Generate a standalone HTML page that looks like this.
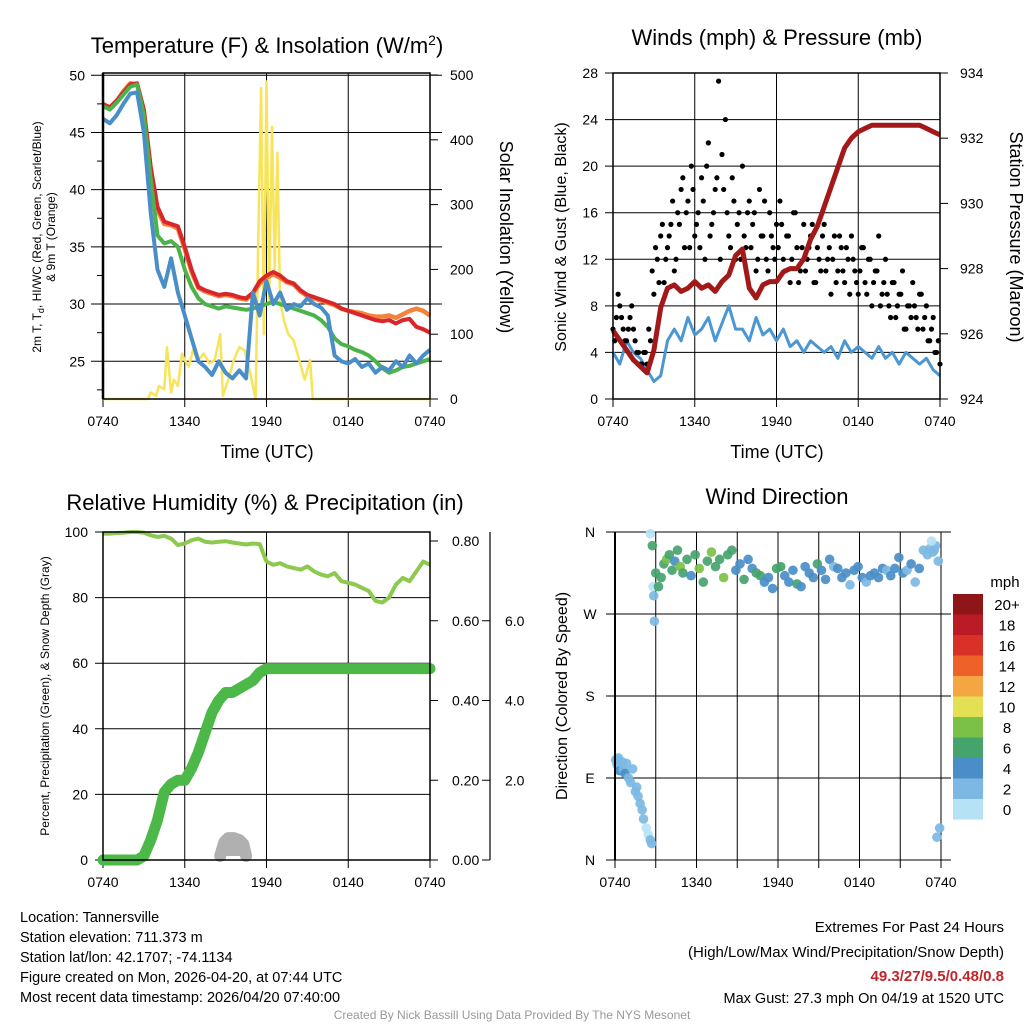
<!DOCTYPE html>
<html><head><meta charset="utf-8">
<style>
html,body{margin:0;padding:0;background:#fff;}
svg{display:block;font-family:"Liberation Sans",Arial,sans-serif;}
</style></head>
<body>
<svg id="root" width="1024" height="1024" viewBox="0 0 1024 1024" xmlns="http://www.w3.org/2000/svg"></svg>
<script>
// ---------- DATA ----------
const hrs = [0,0.5,1,1.5,2,2.5,3,3.5,4,4.5,5,5.5,6,6.5,7,7.5,8,8.5,9,9.5,10,10.5,11,11.5,12,12.5,13,13.5,14,14.5,15,15.5,16,16.5,17,17.5,18,18.5,19,19.5,20,20.5,21,21.5,22,22.5,23,23.5,24];
const xTickLabels = ["0740","1340","1940","0140","0740"];
const tempRed = [47.5,47.2,47.8,48.5,49.2,49.3,47,42,38.5,37.2,37,36.8,35,33,31.5,31.2,31,30.8,30.9,30.8,30.6,30.5,31,32,32.5,32.8,32.5,32,31.8,31.2,30.8,30.6,30.4,30.2,30,29.6,29.4,29.2,29,28.8,28.6,28.5,28.6,28.3,28.6,28.7,28,27.8,27.5];
const temp9m = [47.4,47.1,47.7,48.6,49.3,49.2,46.8,41.8,38.2,37,36.9,36.6,34.8,32.8,31.4,31.1,30.9,30.7,30.8,30.7,30.5,30.4,30.9,31.8,32.3,32.6,32.3,31.9,31.7,31.1,30.7,30.5,30.3,30.1,29.9,29.6,29.4,29.3,29.2,29,28.9,28.9,29,28.8,29.1,29.4,29.6,29.4,29];
const dewGreen = [47.3,47,47.6,48.3,49,49.2,46.5,41,36,35.3,35.5,35,33,31.5,30.5,30,29.8,29.6,29.8,29.7,29.6,29.5,29.6,29.8,30,30.2,30,29.8,29.6,29.4,29.2,29,28.6,28,27,26.5,26.3,26,25.8,25.5,25,24.4,24,24.2,24.5,24.6,24.8,25,25.2];
const wcBlue = [46.2,45.8,46.5,47.5,48.4,48.5,45,38,33,31.5,34,31,29,27,25,24.5,23.8,25,24,23.5,24.2,23.5,31,29,32,30,31,29.5,30,29.8,30.5,30,29.7,29,25.5,25,24.8,25.2,24.5,24.8,24,24.5,24.2,25,24.5,25.5,24.8,25.5,26];
const insolT = [0,3.3,3.5,3.9,4.1,4.5,4.7,5,5.2,5.5,5.8,6,6.3,6.6,7,7.4,7.8,8.2,8.6,8.8,9.2,9.6,10,10.4,10.8,11.2,11.4,11.6,11.8,12,12.2,12.4,12.6,12.8,13,13.3,13.6,14,14.4,14.8,15.2,15.4,16,24];
const insolV = [0,0,10,5,20,15,80,10,30,20,70,60,50,75,60,70,55,60,100,5,30,60,80,75,40,0,250,480,100,490,150,420,200,380,150,120,100,90,60,30,60,0,0,0];
const windSonic = [4,3,5,4,3.5,2.5,1.5,2,5,6,5,7,5.5,6,7,5,6.5,8,6,6,5,7,5.5,6,5,6,4.5,5,4,5,4.5,4,4.5,3.5,5,4,4.5,4,3.5,4.5,3.5,4,3,4,3.5,3,3.5,2.5,2];
const gustVals = [6,7,8,6,5,7,6,4,3, 4,3,5,9,12,14,10,13, 15,11,16,18,13,17,20,14, 16,19,12,22,15,18,27.3,21, 24,14,19,12,16,20,13,17, 15,11,18,14,12,16,13,15, 17,12,14,10,16,13,11,15, 12,14,10,13,11,15,12,9, 14,11,13,10,12,14,11,9, 13,10,12,8,11,14,9,12, 8,10,7,9,11,6,8,10, 7,9,6,8,5,7,4,3];
const gustVals2 = [5,9,7,5,6,8,5,4, 3,4,6,11,13,10,15,12, 14,17,12,15,19,16,13,18, 15,13,17,20,14,16,19,12, 18,16,13,17,15,12,14,16, 13,16,12,14,17,11,14,12, 13,15,11,14,12,16,10,13, 11,13,15,10,12,14,11,13, 12,10,14,11,13,9,12,10, 11,13,9,12,10,11,8,10, 9,7,10,8,9,6,8,7, 8,6,9,7,5,6,4,5];
const pressure = [926.1,925.8,925.5,925.2,925,924.8,925.5,926.8,927.4,927.5,927.3,927.4,927.6,927.4,927.5,927.3,927.6,927.8,928.4,928.6,927.4,927.1,927.5,927.6,927.6,927.9,928,928,928.3,928.9,929.3,929.9,930.5,931.1,931.7,932,932.2,932.3,932.4,932.4,932.4,932.4,932.4,932.4,932.4,932.4,932.3,932.2,932.1];
const rh = [99.5,99.5,99.7,99.8,100,100,99.8,99,98.5,98.8,98,96,96.5,97.5,98,97,96.8,97,97.2,96.8,96.5,96.2,96.5,96.3,91,90,90.5,89.5,89,88.5,89.5,88,87,86.5,87.5,85,84.5,84,83,82,79,78.5,80,84,86,85,88,91,90];
const precip = [0,0,0,0,0,0,0.01,0.05,0.1,0.17,0.19,0.2,0.2,0.23,0.27,0.32,0.37,0.4,0.42,0.42,0.43,0.44,0.45,0.47,0.48,0.48,0.48,0.48,0.48,0.48,0.48,0.48,0.48,0.48,0.48,0.48,0.48,0.48,0.48,0.48,0.48,0.48,0.48,0.48,0.48,0.48,0.48,0.48,0.48];
const snowT = [8.6,8.9,9.2,9.6,10,10.3,10.5];
const snowV = [0.1,0.45,0.55,0.55,0.5,0.4,0.1];
const dirT = [0.05,0.15,0.25,0.35,0.5,0.6,0.75,0.85,1.0,1.15,1.3,1.5,1.6,1.7,1.85,2.0,2.1,2.3,2.45,2.6,2.7,2.6,2.75,2.8,2.85,2.9,3.0,3.2,3.4,3.6,3.8,4.0,4.2,4.4,4.6,4.8,5.0,5.3,5.6,5.9,6.2,6.5,6.8,7.1,7.4,7.7,8.0,8.3,8.6,8.9,9.2,9.5,9.8,10.1,10.4,10.7,11.0,11.3,11.6,11.9,12.2,12.5,12.8,13.1,13.4,13.7,14.0,14.3,14.6,14.9,15.2,15.5,15.8,16.1,16.4,16.7,17.0,17.3,17.6,17.9,18.2,18.5,18.8,19.1,19.4,19.7,20.0,20.3,20.6,20.9,21.2,21.5,21.8,22.1,22.4,22.7,23.0,23.2,23.4,23.6,23.8,23.3,23.5,23.7,23.9];
const dirV = [110,105,112,98,108,100,95,106,90,85,100,75,80,70,62,55,45,35,28,22,18,358,345,300,290,262,315,300,310,325,330,335,318,328,340,322,315,330,312,335,320,305,328,338,322,330,310,335,340,318,325,308,330,320,315,312,305,310,298,320,322,312,305,318,303,300,322,315,310,325,318,308,330,322,320,310,315,302,318,322,310,305,312,315,310,320,318,312,320,332,315,318,325,305,320,340,335,342,338,345,328,350,340,25,35,30,45];
const dirS = [2,2,3,4,3,3,4,2,3,2,3,2,2,3,2,3,2,1,1,2,3,1,6,1,2,3,6,7,6,7,8,6,7,4,6,8,7,6,5,7,8,6,7,9,7,6,8,7,6,5,4,6,5,4,7,6,4,5,4,6,7,5,4,5,6,4,5,4,5,6,4,5,4,3,4,5,4,3,4,5,4,3,4,5,4,4,3,4,5,4,4,3,4,3,4,2,3,2,3,2,3,1,2,2,3,2,1];
const cbLabels = ["20+","18","16","14","12","10","8","6","4","2","0"];
const cbColors = ["#8e1619","#bb1b24","#d93127","#ee6128","#f4a642","#e4e054","#7bc147","#45a36c","#4a8ec7","#7cb8e3","#b7e2f6"];

// ---------- HELPERS ----------
const NS="http://www.w3.org/2000/svg";
const root=document.getElementById('root');
function mk(tag,attrs,parent){const e=document.createElementNS(NS,tag);for(const k in attrs)e.setAttribute(k,attrs[k]);(parent||root).appendChild(e);return e;}
function txt(s,x,y,size,anchor,parent,rot,fill,weight){const e=mk('text',{x:x,y:y,'font-size':size,'text-anchor':anchor||'middle',fill:fill||'#000'},parent);if(weight)e.setAttribute('font-weight',weight);if(rot)e.setAttribute('transform','rotate('+rot+' '+x+' '+y+')');e.textContent=s;return e;}
function lin(d0,d1,r0,r1){return v=>r0+(v-d0)/(d1-d0)*(r1-r0);}
function pathFrom(xs,ys,xf,yf){return xs.map((t,i)=>(i?'L':'M')+xf(t).toFixed(1)+','+yf(ys[i]).toFixed(1)).join('');}
function colorFor(s){let i=Math.min(10,Math.floor(s/2));return cbColors[10-i];}
const TK=14;

function frame(g,x0,y0,x1,y1,xGrid){
  const xf=lin(0,24,x0,x1);
  const step=xGrid||6;
  for(let h=0;h<=24;h+=step){const X=xf(h);
    const l=mk('line',{x1:X,y1:y0,x2:X,y2:y1+8,stroke:'#000','stroke-width':1},g);
    }
  for(let i=0;i<xTickLabels.length;i++){const t=txt(xTickLabels[i],xf(i*6),y1+27,TK,'middle',g);
    }
  return xf;
}

// ---------- PANEL 1 ----------
(function(){
const g=mk('g',{});
const x0=103,x1=430,y0=73,y1=399;
const yf=lin(21.7,50.2,y1,y0), yr=lin(0,500,y1,75);
const xf=frame(g,x0,y0,x1,y1);
[25,30,35,40,45,50].forEach(v=>{const l=mk('line',{x1:x0-12,y1:yf(v),x2:x1+12,y2:yf(v),stroke:'#000'},g);
 const t=txt(String(v),x0-18,yf(v)+5,TK,'end',g);});
[22.5,27.5,32.5,37.5,42.5,47.5].forEach(v=>{mk('line',{x1:x0-6,y1:yf(v),x2:x0,y2:yf(v),stroke:'#000'},g);});
[0,100,200,300,400,500].forEach(v=>{mk('line',{x1:x1,y1:yr(v),x2:x1+8,y2:yr(v),stroke:'#000'},g);
 const t=txt(String(v),x1+20,yr(v)+5,TK,'start',g);});
const ins=mk('path',{d:pathFrom(insolT,insolV,xf,yr),fill:'none',stroke:'#f7e45a','stroke-width':2.5,'stroke-linejoin':'round'},g);
const s1=mk('path',{d:pathFrom(hrs,temp9m,xf,yf),fill:'none',stroke:'#f5823a','stroke-width':4.5,'stroke-linejoin':'round'},g);
const s2=mk('path',{d:pathFrom(hrs,tempRed,xf,yf),fill:'none',stroke:'#d8262a','stroke-width':4,'stroke-linejoin':'round'},g);
const s3=mk('path',{d:pathFrom(hrs,dewGreen,xf,yf),fill:'none',stroke:'#4bb349','stroke-width':4,'stroke-linejoin':'round'},g);
const s4=mk('path',{d:pathFrom(hrs,wcBlue,xf,yf),fill:'none',stroke:'#4a8ec8','stroke-width':4,'stroke-linejoin':'round'},g);
const fr=mk('rect',{x:x0,y:y0,width:x1-x0,height:y1-y0,fill:'none',stroke:'#000','stroke-width':1.5},g);
mk('line',{x1:x0,y1:y0,x2:x0,y2:y1,stroke:'#000','stroke-width':2.5},g);
const ti=mk('text',{x:267,y:53,'font-size':22,'text-anchor':'middle'},g);ti.innerHTML='Temperature (F) &amp; Insolation (W/m<tspan dy="-8" font-size="14">2</tspan><tspan dy="8">)</tspan>';
const xl=txt('Time (UTC)',267,458,18,'middle',g);
const yl=mk('text',{x:41,y:237,'font-size':12,'text-anchor':'middle',transform:'rotate(-90 41 237)'},g);yl.innerHTML='2m T, T<tspan dy="3" font-size="9">d</tspan><tspan dy="-3">, HI/WC (Red, Green, Scarlet/Blue)</tspan>';
const yl2=txt('& 9m T (Orange)',55,237,12,'middle',g,-90);
const yr2=txt('Solar Insolation (Yellow)',500,237,18,'middle',g,90);
})();

// ---------- PANEL 2 ----------
(function(){
const g=mk('g',{});
const x0=613,x1=940,y0=73,y1=399;
const yf=lin(0,28,y1,y0), yr=lin(924,934,y1,y0);
const xf=frame(g,x0,y0,x1,y1);
[0,4,8,12,16,20,24,28].forEach(v=>{const l=mk('line',{x1:x0-8,y1:yf(v),x2:x1,y2:yf(v),stroke:'#000'},g);
 const t=txt(String(v),x0-15,yf(v)+5,TK,'end',g);});
[924,926,928,930,932,934].forEach(v=>{mk('line',{x1:x1,y1:yr(v),x2:x1+8,y2:yr(v),stroke:'#000'},g);
 const t=txt(String(v),x1+20,yr(v)+5,TK,'start',g);});
const w=mk('path',{d:pathFrom(hrs,windSonic,xf,yf),fill:'none',stroke:'#4b97d4','stroke-width':3,'stroke-linejoin':'round'},g);
for(let i=0;i<gustVals.length;i++){const c=mk('circle',{cx:xf(i*0.25),cy:yf(gustVals[i]),r:2.6,fill:'#000'},g);
 }
for(let i=0;i<gustVals2.length;i++){const c=mk('circle',{cx:xf(0.125+i*0.25),cy:yf(gustVals2[i]),r:2.6,fill:'#000'},g);
 }
const p=mk('path',{d:pathFrom(hrs,pressure,xf,yr),fill:'none',stroke:'#a31818','stroke-width':5,'stroke-linejoin':'round'},g);
const fr=mk('rect',{x:x0,y:y0,width:x1-x0,height:y1-y0,fill:'none',stroke:'#000','stroke-width':1.5},g);
const ti=txt('Winds (mph) & Pressure (mb)',777,45,22,'middle',g);
const xl=txt('Time (UTC)',777,458,18,'middle',g);
const yl=txt('Sonic Wind & Gust (Blue, Black)',566,237,16,'middle',g,-90);
const yr2=txt('Station Pressure (Maroon)',1010,237,18,'middle',g,90);
})();

// ---------- PANEL 3 ----------
(function(){
const g=mk('g',{});
const x0=103,x1=430,y0=532,y1=860;
const yf=lin(0,100,y1,y0), yp=lin(0,0.8,y1,541), ys=lin(0,8,y1,541);
const xf=frame(g,x0,y0,x1,y1);
[0,20,40,60,80,100].forEach(v=>{const l=mk('line',{x1:x0-8,y1:yf(v),x2:x1,y2:yf(v),stroke:'#000'},g);
 const t=txt(String(v),x0-15,yf(v)+5,TK,'end',g);});
[0,0.2,0.4,0.6,0.8].forEach(v=>{mk('line',{x1:x1,y1:yp(v),x2:x1+8,y2:yp(v),stroke:'#000'},g);
 const t=txt(v.toFixed(2),x1+22,yp(v)+5,TK,'start',g);});
mk('line',{x1:490,y1:532,x2:490,y2:860,stroke:'#000','stroke-width':1.2},g);
[0,2,4,6].forEach(v=>{mk('line',{x1:482,y1:ys(v),x2:490,y2:ys(v),stroke:'#000'},g);
 if(v>0){const t=txt(v.toFixed(1),505,ys(v)+5,TK,'start',g);}});
const pr=mk('path',{d:pathFrom(hrs,precip,xf,yp),fill:'none',stroke:'#4cb848','stroke-width':11,'stroke-linejoin':'round','stroke-linecap':'round'},g);
const sn=mk('path',{d:pathFrom(snowT,snowV,xf,ys),fill:'#b0b0b0',stroke:'#b0b0b0','stroke-width':12,'stroke-linejoin':'round','stroke-linecap':'round'},g);
const r=mk('path',{d:pathFrom(hrs,rh,xf,yf),fill:'none',stroke:'#8cc94e','stroke-width':4,'stroke-linejoin':'round'},g);
const fr=mk('rect',{x:x0,y:y0,width:x1-x0,height:y1-y0,fill:'none',stroke:'#000','stroke-width':1.5},g);
const ti=txt('Relative Humidity (%) & Precipitation (in)',265,510,22,'middle',g);
const yl=txt('Percent, Precipitation (Green), & Snow Depth (Gray)',49,696,12,'middle',g,-90);
})();

// ---------- PANEL 4 ----------
(function(){
const g=mk('g',{});
const x0=615,x1=941,y0=532,y1=860;
const yf=lin(0,360,y1,y0);
const xf=frame(g,x0,y0,x1,y1,3);
const dl=["N","E","S","W","N"];
[0,90,180,270,360].forEach((v,i)=>{const l=mk('line',{x1:606,y1:yf(v),x2:951,y2:yf(v),stroke:'#000'},g);
 const t=txt(dl[i],590,yf(v)+5,TK,'middle',g);});
for(let i=0;i<dirT.length;i++){const c=mk('circle',{cx:xf(dirT[i]),cy:yf(dirV[i]),r:4.8,fill:colorFor(dirS[i]),'fill-opacity':0.92},g);
 }
mk('line',{x1:x0,y1:y0,x2:x0,y2:y1,stroke:'#000','stroke-width':2},g);
const ti=txt('Wind Direction',777,504,22,'middle',g);
const yl=txt('Direction (Colored By Speed)',567,696,16,'middle',g,-90);
const lg=mk('g',{},g);
const u=txt('mph',1005,587,15,'middle',lg);
for(let i=0;i<cbLabels.length;i++){const yy=594+i*20.5;
 const b=mk('rect',{x:953,y:yy,width:30,height:20.6,fill:cbColors[i]},lg);
 const t=txt(cbLabels[i],1007,yy+16,15,'middle',lg);}
})();

// ---------- FOOTER ----------
(function(){
const g=mk('g',{});
const lines=["Location: Tannersville","Station elevation: 711.373 m","Station lat/lon: 42.1707; -74.1134","Figure created on Mon, 2026-04-20, at 07:44 UTC","Most recent data timestamp: 2026/04/20 07:40:00"];
lines.forEach((s,i)=>{const t=txt(s,20,922+i*20,14.5,'start',g);});
const a=txt('Extremes For Past 24 Hours',1004,932,15,'end',g);
const b=txt('(High/Low/Max Wind/Precipitation/Snow Depth)',1004,957,15,'end',g);
const c=txt('49.3/27/9.5/0.48/0.8',1004,981,15,'end',g,0,'#c0262a','bold');
const d=txt('Max Gust: 27.3 mph On 04/19 at 1520 UTC',1004,1003,14.5,'end',g);
const e=txt('Created By Nick Bassill Using Data Provided By The NYS Mesonet',512,1019,12,'middle',g,0,'#999');
})();
</script>
</body></html>
